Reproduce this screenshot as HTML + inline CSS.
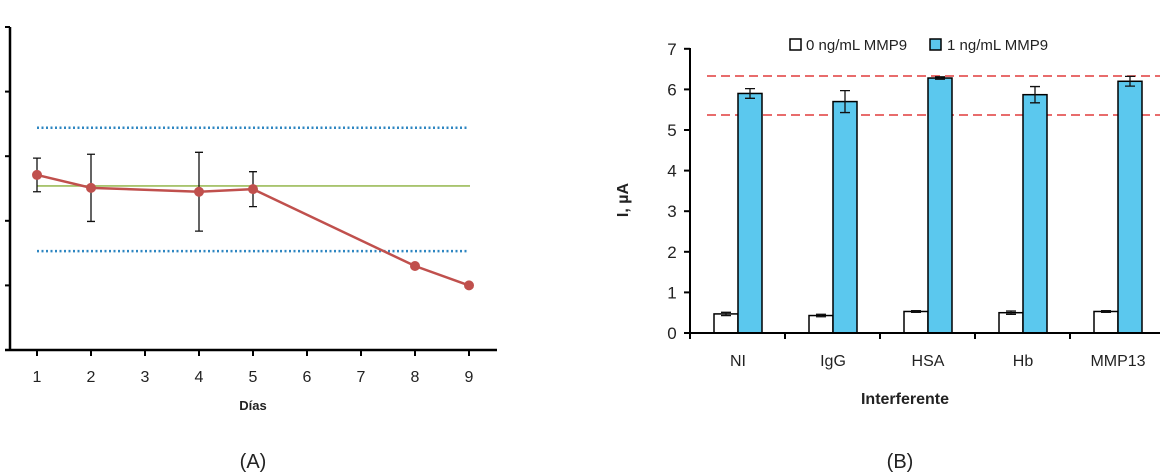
<!DOCTYPE html>
<html><head><meta charset="utf-8"><style>
html,body{margin:0;padding:0;background:#fff;}
svg{display:block;font-family:"Liberation Sans",sans-serif;}
</style></head><body>
<svg id="c" width="1160" height="473" viewBox="0 0 1160 473"></svg>
<script>
// Chart A data
const daysA = [1,2,4,5,8,9];
const valsA = [2.71,2.51,2.45,2.49,1.30,1.00];
const errA = [0.26,0.52,0.61,0.27,0,0];
const xTicksA = [1,2,3,4,5,6,7,8,9];
const yTicksA = [1,2,3,4];
const meanA = 2.54;
const limitsA = [3.44,1.53];
// Chart B data
const catsB = ["NI","IgG","HSA","Hb","MMP13"];
const zeroB = [0.47,0.43,0.53,0.50,0.53];
const zeroErrB = [0.04,0.03,0.02,0.04,0.02];
const oneB = [5.90,5.70,6.28,5.87,6.20];
const oneErrB = [0.12,0.27,0.03,0.20,0.12];
const yTicksB = [0,1,2,3,4,5,6,7];
const refB = [6.33,5.37];

const NS="http://www.w3.org/2000/svg";
const svg=document.getElementById('c');
function mk(tag,attrs,parent){const e=document.createElementNS(NS,tag);for(const k in attrs)e.setAttribute(k,attrs[k]);(parent||svg).appendChild(e);return e;}

// ---- Chart A ----
const xA=d=>37+(d-1)*54;
const yA=v=>350-v*64.6;
const gA=mk('g',{});


let e;
e=mk('line',{x1:10,y1:27,x2:10,y2:351,stroke:'#000','stroke-width':2.5},gA);

e=mk('line',{x1:5,y1:350,x2:497,y2:350,stroke:'#000','stroke-width':2.5},gA);

mk('line',{x1:5,y1:27,x2:10,y2:27,stroke:'#000','stroke-width':2},gA);
yTicksA.forEach(t=>{e=mk('line',{x1:5,y1:yA(t),x2:10,y2:yA(t),stroke:'#000','stroke-width':2},gA);
});
xTicksA.forEach(t=>{e=mk('line',{x1:xA(t),y1:350,x2:xA(t),y2:356,stroke:'#000','stroke-width':2},gA);

e=mk('text',{x:xA(t),y:382,'text-anchor':'middle','font-size':16,fill:'#222'},gA);e.textContent=t;
});
e=mk('line',{x1:37,y1:yA(meanA),x2:470,y2:yA(meanA),stroke:'#9bbb59','stroke-width':1.6},gA);

limitsA.forEach(v=>{e=mk('line',{x1:37,y1:yA(v),x2:469,y2:yA(v),stroke:'#2e86c1','stroke-width':2.5,'stroke-dasharray':'2 2.5'},gA);
});
e=mk('polyline',{points:daysA.map((d,i)=>xA(d)+','+yA(valsA[i])).join(' '),fill:'none',stroke:'#c0504d','stroke-width':2.5},gA);

daysA.forEach((d,i)=>{if(errA[i]>0){const x=xA(d),t=yA(valsA[i]+errA[i]),b=yA(valsA[i]-errA[i]);
e=mk('path',{d:`M${x},${t}V${b}M${x-4},${t}H${x+4}M${x-4},${b}H${x+4}`,stroke:'#111','stroke-width':1.3,fill:'none'},gA);
}
e=mk('circle',{cx:xA(d),cy:yA(valsA[i]),r:5,fill:'#c0504d'},gA);
});
e=mk('text',{x:253,y:410,'text-anchor':'middle','font-size':13,'font-weight':'bold',fill:'#222'},gA);e.textContent='Días';

e=mk('text',{x:253,y:468,'text-anchor':'middle','font-size':20,fill:'#222'},gA);e.textContent='(A)';


// ---- Chart B ----
const yB=v=>333-v*40.6;
const catX=i=>738+i*95;
const gB=mk('g',{});


refB.forEach(v=>{e=mk('line',{x1:707,y1:yB(v),x2:1160,y2:yB(v),stroke:'#e03c3c','stroke-width':1.5,'stroke-dasharray':'9 5'},gB);
});
catsB.forEach((c,i)=>{const cx=catX(i);
e=mk('rect',{x:cx-24,y:yB(zeroB[i]),width:24,height:yB(0)-yB(zeroB[i]),fill:'#fff',stroke:'#000','stroke-width':1.5},gB);

e=mk('rect',{x:cx,y:yB(oneB[i]),width:24,height:yB(0)-yB(oneB[i]),fill:'#5bc8ee',stroke:'#000','stroke-width':1.5},gB);

[[cx-12,zeroB[i],zeroErrB[i]],[cx+12,oneB[i],oneErrB[i]]].forEach(([x,v,er])=>{const t=yB(v+er),b=yB(v-er);
e=mk('path',{d:`M${x},${t}V${b}M${x-5},${t}H${x+5}M${x-5},${b}H${x+5}`,stroke:'#111','stroke-width':1.3,fill:'none'},gB);
});
e=mk('text',{x:cx,y:366,'text-anchor':'middle','font-size':16,fill:'#222'},gB);e.textContent=c;
});
e=mk('line',{x1:690,y1:48,x2:690,y2:334,stroke:'#000','stroke-width':2},gB);

e=mk('line',{x1:684,y1:333,x2:1160,y2:333,stroke:'#000','stroke-width':2},gB);

catsB.forEach((c,i)=>{e=mk('line',{x1:690+i*95,y1:333,x2:690+i*95,y2:339,stroke:'#000','stroke-width':2},gB);
});
yTicksB.forEach(t=>{e=mk('line',{x1:684,y1:yB(t),x2:690,y2:yB(t),stroke:'#000','stroke-width':2},gB);

e=mk('text',{x:672,y:yB(t)+6,'text-anchor':'middle','font-size':17,fill:'#222'},gB);e.textContent=t;
});
e=mk('text',{x:628,y:200,'text-anchor':'middle','font-size':16,'font-weight':'bold',fill:'#222',transform:'rotate(-90 628 200)'},gB);e.textContent='I, µA';

e=mk('text',{x:905,y:404,'text-anchor':'middle','font-size':16,'font-weight':'bold',fill:'#222'},gB);e.textContent='Interferente';

e=mk('rect',{x:790,y:39,width:11,height:11,fill:'#fff',stroke:'#000','stroke-width':1.5},gB);

e=mk('text',{x:806,y:50,'font-size':15,fill:'#222'},gB);e.textContent='0 ng/mL MMP9';

e=mk('rect',{x:930,y:39,width:11,height:11,fill:'#5bc8ee',stroke:'#000','stroke-width':1.5},gB);

e=mk('text',{x:947,y:50,'font-size':15,fill:'#222'},gB);e.textContent='1 ng/mL MMP9';

e=mk('text',{x:900,y:468,'text-anchor':'middle','font-size':20,fill:'#222'},gB);e.textContent='(B)';

</script>
</body></html>
